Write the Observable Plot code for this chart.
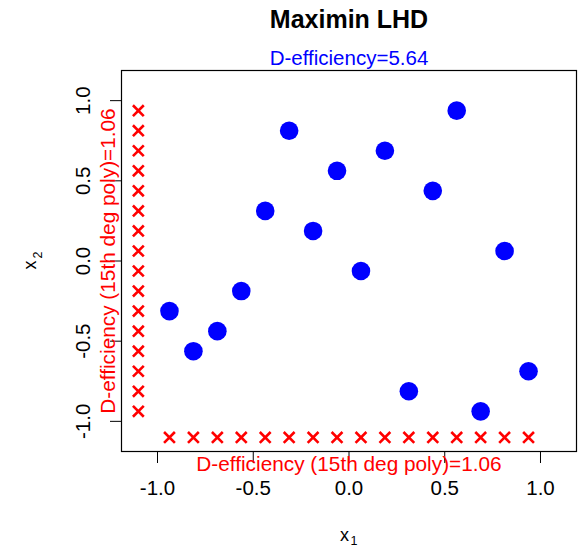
<!DOCTYPE html>
<html><head><meta charset="utf-8">
<script src="https://cdn.jsdelivr.net/npm/d3@7"></script>
<script src="https://cdn.jsdelivr.net/npm/@observablehq/plot@0.6"></script>
<style>body{margin:0;background:#fff} svg{font-family:"Liberation Sans",Arial,sans-serif}</style>
</head><body><div id="chart"></div>
<script>
// Design columns (16-run Latin hypercube)
const x1 = [-0.9375,-0.8125,-0.6875,-0.5625,-0.4375,-0.3125,-0.1875,-0.0625,0.0625,0.1875,0.3125,0.4375,0.5625,0.6875,0.8125,0.9375];
const x2 = [-0.3125,-0.5625,-0.4375,-0.1875,0.3125,0.8125,0.1875,0.5625,-0.0625,0.6875,-0.8125,0.4375,0.9375,-0.9375,0.0625,-0.6875];
// Projection marks along each axis
const projLevels = [-0.9375,-0.8125,-0.6875,-0.5625,-0.4375,-0.3125,-0.1875,-0.0625,0.0625,0.1875,0.3125,0.4375,0.5625,0.6875,0.8125,0.9375];
const projPos = -1.1;
const tickValues = [-1, -0.5, 0, 0.5, 1];
const titleText = "Maximin LHD";
const subtitleText = "D-efficiency=5.64";
const projLabel = "D-efficiency (15th deg poly)=1.06";

const design = x1.map((v, i) => ({x1: v, x2: x2[i]}));
const fmt = d => d.toFixed(1);
const C = {textAnchor: "middle", lineAnchor: "middle"};

const chart = Plot.plot({
  width: 579, height: 548,
  marginLeft: 121, marginRight: 3, marginTop: 70, marginBottom: 97,
  style: {fontFamily: '"Liberation Sans", Arial, sans-serif', background: "white", overflow: "visible"},
  x: {domain: [-1.188, 1.188]},
  y: {domain: [-1.188, 1.188]},
  marks: [
    Plot.frame({stroke: "black", strokeWidth: 1.2}),
    Plot.axisX({ticks: tickValues, tickFormat: fmt, tickSize: 12, tickPadding: 17, fontSize: 20.5, label: null, stroke: "black", fill: "black"}),
    Plot.axisY({ticks: tickValues, tickFormat: fmt, tickSize: 11, tickPadding: 21, tickRotate: -90, fontSize: 20.5, label: null, stroke: "black", fill: "black"}),
    Plot.dot(projLevels, {x: d => d, y: () => projPos, symbol: "times", r: 5, stroke: "red", strokeWidth: 2.6}),
    Plot.dot(projLevels, {x: () => projPos, y: d => d, symbol: "times", r: 5, stroke: "red", strokeWidth: 2.6}),
    Plot.dot(design, {x: "x1", y: "x2", r: 9.3, fill: "blue", stroke: "none"}),
    Plot.text([titleText], {...C, text: d => d, frameAnchor: "top", dy: -51, fontSize: 25, fontWeight: "bold", fill: "black"}),
    Plot.text([subtitleText], {...C, text: d => d, frameAnchor: "top", dy: -12.5, fontSize: 20.5, fill: "blue"}),
    Plot.text([projLabel], {...C, text: d => d, frameAnchor: "bottom", dy: 13, fontSize: 20.8, fill: "red"}),
    Plot.text([projLabel], {...C, text: d => d, frameAnchor: "left", dx: -13, rotate: -90, fontSize: 20.8, fill: "red"}),
    Plot.text(["x"], {...C, text: d => d, frameAnchor: "bottom", dx: -4.5, dy: 84, fontSize: 18, fill: "black"}),
    Plot.text(["1"], {...C, text: d => d, frameAnchor: "bottom", dx: 5, dy: 89.5, fontSize: 12.5, fill: "black"}),
    Plot.text(["x"], {...C, text: d => d, frameAnchor: "left", dx: -91, dy: 4, rotate: -90, fontSize: 18, fill: "black"}),
    Plot.text(["2"], {...C, text: d => d, frameAnchor: "left", dx: -84, dy: -6, rotate: -90, fontSize: 12.5, fill: "black"})
  ]
});
document.getElementById("chart").appendChild(chart);
</script></body></html>
